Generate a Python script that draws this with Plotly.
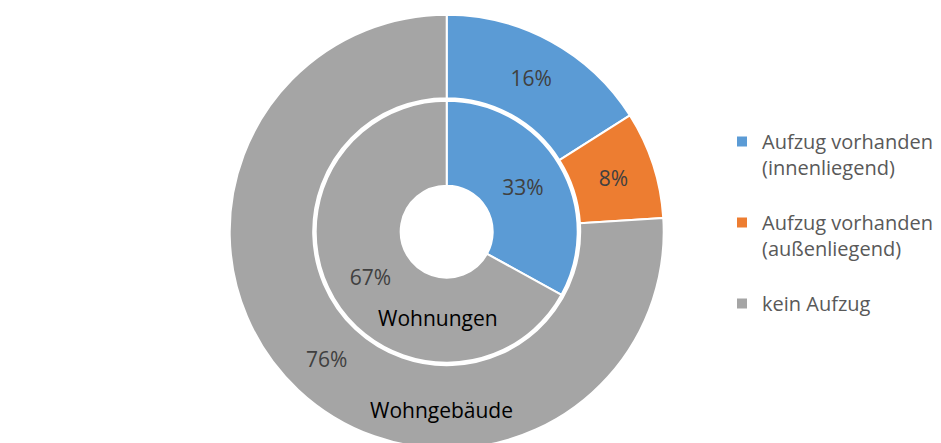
import plotly.graph_objects as go

labels = ["Aufzug vorhanden<br>(innenliegend)<br> ", "Aufzug vorhanden<br>(außenliegend)<br> ", "kein Aufzug"]
outer_values = [16, 8, 76]          # Wohngebäude
inner_labels = [labels[0], labels[2]]
inner_values = [33, 67]             # Wohnungen
color_list = ["#5B9BD5", "#ED7D31", "#A5A5A5"]
ring_names = ["Wohngebäude", "Wohnungen"]

colors = dict(zip(labels, color_list))

# page has an 8px body margin -> figure coords = screen coords - 8
W, H = 941, 443
cx, cy_top = 438.7, 223.7
R_out, hole_out = 217.0, 133.5
R_in, hole_in = 131.0, 46.0
cy = H - cy_top

def dom(R):
    return dict(x=[(cx - R) / W, (cx + R) / W], y=[(cy - R) / H, (cy + R) / H])

txtfont = dict(family="Open Sans", size=21, color="#404040")

fig = go.Figure()
fig.add_trace(go.Pie(
    labels=labels, values=outer_values, sort=False, direction="clockwise", rotation=0,
    hole=hole_out / R_out, domain=dom(R_out),
    marker=dict(colors=[colors[l] for l in labels], line=dict(color="white", width=2)),
    textinfo="percent", textposition="inside", insidetextorientation="horizontal",
    textfont=txtfont, hoverinfo="label+percent", showlegend=True, name=ring_names[0],
))
fig.add_trace(go.Pie(
    labels=inner_labels, values=inner_values, sort=False, direction="clockwise", rotation=0,
    hole=hole_in / R_in, domain=dom(R_in),
    marker=dict(colors=[colors[l] for l in inner_labels], line=dict(color="white", width=2)),
    textinfo="percent", textposition="inside", insidetextorientation="horizontal",
    textfont=txtfont, hoverinfo="label+percent", showlegend=False, name=ring_names[1],
))

fig.add_annotation(text=ring_names[0], x=433.7 / W, y=(H - 402) / H, xref="paper", yref="paper",
                   xanchor="center", yanchor="middle",
                   showarrow=False, font=dict(family="Open Sans", size=21, color="#000000"))
fig.add_annotation(text=ring_names[1], x=430.3 / W, y=(H - 310.3) / H, xref="paper", yref="paper",
                   xanchor="center", yanchor="middle",
                   showarrow=False, font=dict(family="Open Sans", size=21, color="#000000"))

fig.update_layout(
    width=W, height=H, margin=dict(l=0, r=0, t=0, b=0),
    paper_bgcolor="white", plot_bgcolor="white",
    legend=dict(x=714 / W, y=(H - 114) / H, xanchor="left", yanchor="top",
                valign="top", itemwidth=30, traceorder="normal",
                font=dict(family="Open Sans", size=20, color="#595959")),
)
fig.write_html("out.html")
